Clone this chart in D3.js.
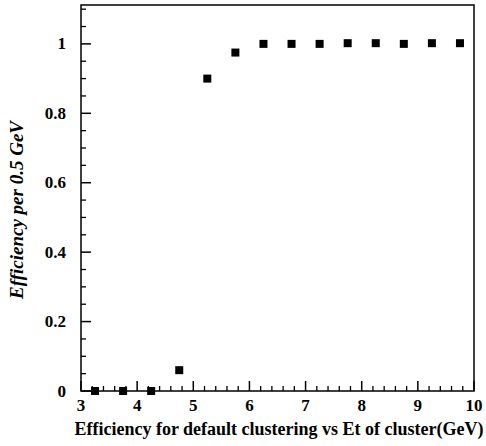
<!DOCTYPE html>
<html>
<head>
<meta charset="utf-8">
<script src="https://cdn.jsdelivr.net/npm/d3@7"></script>
<style>
  body { margin: 0; background: #fff; }
</style>
</head>
<body>
<svg width="486" height="446"></svg>
<script>
"use strict";

// bin centres (GeV) and efficiency per bin
const etBins = [3.25, 3.75, 4.25, 4.75, 5.25, 5.75, 6.25, 6.75, 7.25, 7.75, 8.25, 8.75, 9.25, 9.75];
const efficiency = [0, 0, 0, 0.06, 0.9, 0.975, 1, 1, 1, 1.002, 1.002, 1, 1.002, 1.002];
const xTicks = [3, 4, 5, 6, 7, 8, 9, 10];
const yTicks = [0, 0.2, 0.4, 0.6, 0.8, 1];

const serif = '"Liberation Serif"';
const svg = d3.select("svg");
const plotL = 81, plotR = 474, plotT = 5, plotB = 391;

const x = d3.scaleLinear().domain([3, 10]).range([plotL, plotR]);
const y = d3.scaleLinear().domain([0, 1.112]).range([plotB, plotT]);

// frame
svg.append("rect")
  .attr("x", plotL).attr("y", plotT)
  .attr("width", plotR - plotL).attr("height", plotB - plotT)
  .attr("fill", "none").attr("stroke", "#000").attr("stroke-width", 1.5);

// x ticks, pointing up into the plot
const xMinor = d3.range(3, 10.001, 0.2).filter(v => Math.abs(v - Math.round(v)) > 0.01);
svg.append("g").selectAll("line").data(xMinor).enter().append("line")
  .attr("x1", d => x(d)).attr("x2", d => x(d))
  .attr("y1", plotB).attr("y2", plotB - 5)
  .attr("stroke", "#000").attr("stroke-width", 1.3);
svg.append("g").selectAll("line").data(xTicks).enter().append("line")
  .attr("x1", d => x(d)).attr("x2", d => x(d))
  .attr("y1", plotB).attr("y2", plotB - 10)
  .attr("stroke", "#000").attr("stroke-width", 1.5);
svg.append("g").selectAll("text").data(xTicks).enter().append("text")
  .attr("x", d => x(d)).attr("y", plotB + 20)
  .attr("text-anchor", "middle")
  .style("font-family", serif).style("font-weight", "bold").style("font-size", "17px")
  .text(d => d);

// y ticks, pointing right into the plot
const yMinor = d3.range(0, 1.11, 0.05).filter(v => Math.abs(v * 5 - Math.round(v * 5)) > 0.01);
svg.append("g").selectAll("line").data(yMinor).enter().append("line")
  .attr("x1", plotL).attr("x2", plotL + 5)
  .attr("y1", d => y(d)).attr("y2", d => y(d))
  .attr("stroke", "#000").attr("stroke-width", 1.3);
svg.append("g").selectAll("line").data(yTicks).enter().append("line")
  .attr("x1", plotL).attr("x2", plotL + 10)
  .attr("y1", d => y(d)).attr("y2", d => y(d))
  .attr("stroke", "#000").attr("stroke-width", 1.5);
svg.append("g").selectAll("text").data(yTicks).enter().append("text")
  .attr("x", 66).attr("y", d => y(d) + 5.5)
  .attr("text-anchor", "end")
  .style("font-family", serif).style("font-weight", "bold").style("font-size", "17px")
  .text(d => d);

// markers
const size = 8;
svg.append("g").selectAll("rect").data(etBins).enter().append("rect")
  .attr("x", d => x(d) - size / 2)
  .attr("y", (d, i) => y(efficiency[i]) - size / 2)
  .attr("width", size).attr("height", size)
  .attr("fill", "#000");

// axis titles
svg.append("text")
  .attr("x", 279).attr("y", 435)
  .attr("text-anchor", "middle")
  .style("font-family", serif).style("font-weight", "bold").style("font-size", "18px")
  .text("Efficiency for default clustering vs Et of cluster(GeV)");

svg.append("text")
  .attr("transform", "translate(23,210) rotate(-90)")
  .attr("text-anchor", "middle")
  .style("font-family", serif).style("font-weight", "bold").style("font-style", "italic")
  .style("font-size", "19px")
  .text("Efficiency per 0.5 GeV");
</script>
</body>
</html>
